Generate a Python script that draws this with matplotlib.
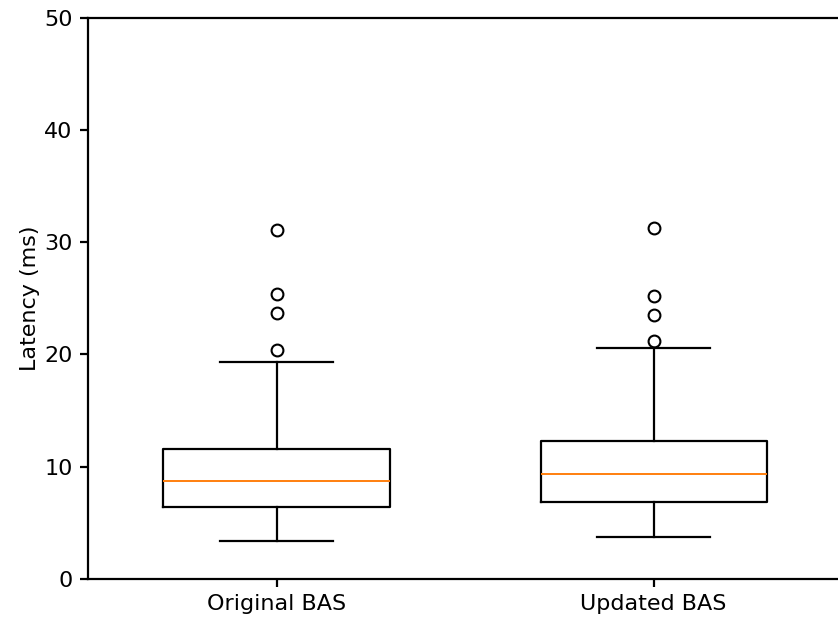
import matplotlib
matplotlib.use("Agg")
import matplotlib.pyplot as plt

# box statistics (ms)
labels = ["Original BAS", "Updated BAS"]
whislo = [3.4, 3.7]
q1 = [6.4, 6.8]
med = [8.7, 9.3]
q3 = [11.6, 12.3]
whishi = [19.3, 20.6]
fliers = [
    [20.4, 23.7, 25.4, 31.1],
    [21.2, 23.5, 25.2, 31.3],
]

stats = []
for i, lab in enumerate(labels):
    stats.append({
        "label": lab,
        "whislo": whislo[i],
        "q1": q1[i],
        "med": med[i],
        "q3": q3[i],
        "whishi": whishi[i],
        "fliers": fliers[i],
    })

fig = plt.figure(figsize=(8.38, 6.17), dpi=100)
ax = fig.add_axes([0.105, 0.062, 0.9, 0.909])

lw = 1.6
ax.bxp(
    stats,
    widths=0.6,
    boxprops=dict(linewidth=lw, color="black"),
    whiskerprops=dict(linewidth=lw, color="black"),
    capprops=dict(linewidth=lw, color="black"),
    medianprops=dict(linewidth=1.4, color="#ff7f0e"),
    flierprops=dict(marker="o", markersize=8.5, markeredgewidth=1.5,
                    markerfacecolor="none", markeredgecolor="black"),
)

ax.set_ylim(0, 50)
ax.set_xlim(0.5, 2.5)
ax.set_ylabel("Latency (ms)", fontsize=16, labelpad=3)
ax.tick_params(labelsize=16, width=lw, length=6, pad=5)
for s in ax.spines.values():
    s.set_linewidth(lw)

fig.savefig("out.png", dpi=100)
